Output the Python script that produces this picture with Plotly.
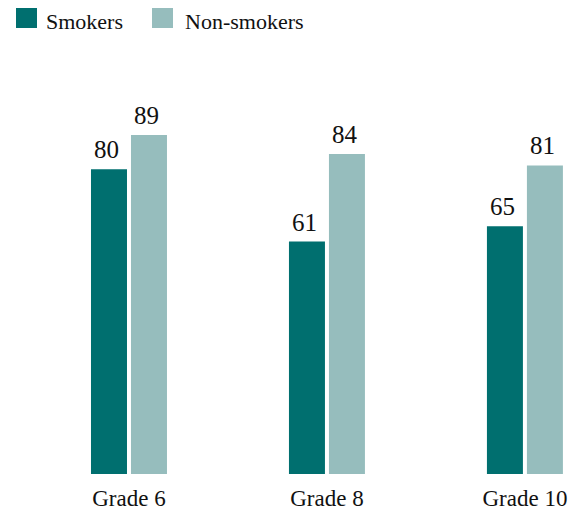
import plotly.graph_objects as go

categories = ["Grade 6", "Grade 8", "Grade 10"]
smokers = [80, 61, 65]
non_smokers = [89, 84, 81]
series_names = ["Smokers", "Non-smokers"]
colors = ["#006F6F", "#96BDBD"]

FONT = "Liberation Serif, Times New Roman, serif"
TXT = "#111111"

fig = go.Figure()
for name, vals, col in zip(series_names, [smokers, non_smokers], colors):
    fig.add_trace(go.Bar(
        x=categories, y=vals, name=name, marker_color=col, marker_line_width=0,
        cliponaxis=False, showlegend=False,
    ))

# value labels above bars (anchored at data values, shifted to each bar of the group)
for shift, vals in zip([-20, 20], [smokers, non_smokers]):
    for c, v in zip(categories, vals):
        fig.add_annotation(x=c, y=v, xref="x", yref="y", xshift=shift - 2, yshift=4,
                           xanchor="center", yanchor="bottom", showarrow=False, text=str(v),
                           font=dict(family=FONT, size=25, color=TXT))

# manual legend (larger squares than Plotly's built-in legend symbols)
legend_pos = [(-14, 15), (122, 154)]  # pixel offsets from plot left: square x0, text x
for (sx, tx), name, col in zip(legend_pos, series_names, colors):
    fig.add_shape(type="rect", xref="paper", yref="paper", xsizemode="pixel", ysizemode="pixel",
                  xanchor=0, yanchor=1, x0=sx, x1=sx + 21, y0=65, y1=85,
                  fillcolor=col, line_width=0)
    fig.add_annotation(xref="paper", yref="paper", x=0, y=1, xshift=tx, yshift=72,
                       xanchor="left", yanchor="middle", showarrow=False, text=name,
                       borderpad=0, font=dict(family=FONT, size=22, color=TXT))

fig.update_layout(
    width=568, height=505,
    margin=dict(l=22, r=0, t=85, b=39, autoexpand=False),
    paper_bgcolor="white", plot_bgcolor="white",
    barmode="group", bargap=0.596, bargroupgap=0.1,
    font=dict(family=FONT, size=23, color=TXT),
    xaxis=dict(range=[-0.5, 2.258], showgrid=False, showline=False, zeroline=False,
               ticks="", ticklabelstandoff=8,
               tickfont=dict(family=FONT, size=23, color=TXT)),
    yaxis=dict(range=[0, 100], visible=False, showgrid=False, zeroline=False),
)

fig.write_html("out.html")
